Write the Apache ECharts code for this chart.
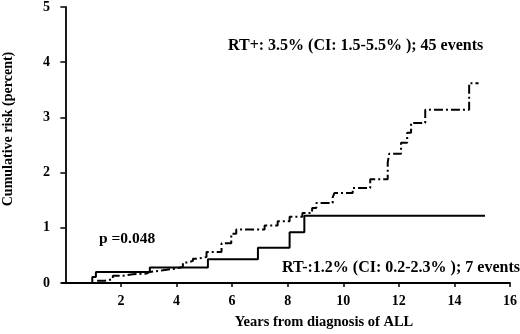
<!DOCTYPE html>
<html>
<head>
<meta charset="utf-8">
<script src="https://cdn.jsdelivr.net/npm/echarts@6/dist/echarts.min.js"></script>
<style>
  html, body { margin: 0; padding: 0; background: #fff; }
  #chart { width: 520px; height: 334px; }
</style>
</head>
<body>
<div id="chart"></div>
<script>
// RT+ group (dash-dot), step points: years / cumulative risk (%)
var rtPlusYears = [0.97, 1.1, 1.43, 1.71, 2.07, 2.43, 2.92, 3.04, 3.51, 3.94, 4.23, 4.41, 4.59, 4.73, 5.08, 5.62, 5.97, 6.15, 7.17, 7.64, 8.07, 8.53, 8.88, 9.03, 9.62, 9.68, 10.34, 10.97, 11.6, 11.65, 12.08, 12.3, 12.44, 12.95, 14.53, 14.87];
var rtPlusRisk  = [0, 0.04, 0.07, 0.13, 0.16, 0.17, 0.2, 0.23, 0.26, 0.29, 0.37, 0.4, 0.44, 0.47, 0.56, 0.72, 0.89, 0.97, 1.04, 1.12, 1.2, 1.27, 1.36, 1.45, 1.55, 1.63, 1.72, 1.88, 2.18, 2.34, 2.54, 2.72, 2.9, 3.14, 3.62, 3.62];

// RT- group (solid)
var rtMinusYears = [0.97, 1.1, 3.04, 5.13, 6.93, 8.07, 8.6, 15.1];
var rtMinusRisk  = [0.11, 0.2, 0.28, 0.43, 0.64, 0.92, 1.22, 1.22];

var xTicks = [2, 4, 6, 8, 10, 12, 14, 16];

var font = '"Liberation Serif", "Times New Roman", serif';

function pairs(xs, ys) {
    var out = [[0, 0]];
    for (var i = 0; i < xs.length; i++) {
        out.push([xs[i], ys[i]]);
    }
    return out;
}

var chart = echarts.init(document.getElementById('chart'));

chart.setOption({
    animation: false,
    grid: { left: 62, right: 10, top: 5, bottom: 51 },
    xAxis: {
        type: 'value',
        min: -0.12,
        max: 16,
        axisLine: { lineStyle: { color: '#000', width: 1.8 } },
        axisTick: { customValues: xTicks, length: 4, lineStyle: { color: '#000', width: 1.5 } },
        axisLabel: {
            customValues: xTicks,
            color: '#000', fontFamily: font, fontWeight: 'bold', fontSize: 14, margin: 11
        },
        splitLine: { show: false }
    },
    yAxis: {
        type: 'value',
        min: 0,
        max: 5,
        interval: 1,
        axisLine: { show: true, lineStyle: { color: '#000', width: 1.8 } },
        axisTick: { show: true, length: 5, lineStyle: { color: '#000', width: 1.5 } },
        axisLabel: { color: '#000', fontFamily: font, fontWeight: 'bold', fontSize: 14, margin: 12 },
        splitLine: { show: false }
    },
    graphic: [
        {
            type: 'text', x: 228, y: 46,
            style: {
                text: 'RT+: 3.5% (CI: 1.5-5.5% ); 45 events', font: 'bold 16px ' + font,
                fill: '#000', verticalAlign: 'middle'
            }
        },
        {
            type: 'text', x: 282, y: 268,
            style: {
                text: 'RT-:1.2% (CI: 0.2-2.3% ); 7 events', font: 'bold 16px ' + font,
                fill: '#000', verticalAlign: 'middle'
            }
        },
        {
            type: 'text', x: 99, y: 239,
            style: { text: 'p =0.048', font: 'bold 15.5px ' + font, fill: '#000', verticalAlign: 'middle' }
        },
        {
            type: 'text', x: 324, y: 322,
            style: {
                text: 'Years from diagnosis of ALL', font: 'bold 14.5px ' + font, fill: '#000',
                align: 'center', verticalAlign: 'middle'
            }
        },
        {
            type: 'text', x: 8, y: 129, rotation: Math.PI / 2,
            style: {
                text: 'Cumulative risk (percent)', font: 'bold 14px ' + font, fill: '#000',
                align: 'center', verticalAlign: 'middle'
            }
        }
    ],
    series: [
        {
            name: 'RT+',
            type: 'line',
            step: 'end',
            symbol: 'none',
            data: pairs(rtPlusYears, rtPlusRisk),
            lineStyle: { color: '#000', width: 2, type: [9, 3, 2, 3] }
        },
        {
            name: 'RT-',
            type: 'line',
            step: 'end',
            symbol: 'none',
            data: pairs(rtMinusYears, rtMinusRisk),
            lineStyle: { color: '#000', width: 2 }
        }
    ]
});
</script>
</body>
</html>
